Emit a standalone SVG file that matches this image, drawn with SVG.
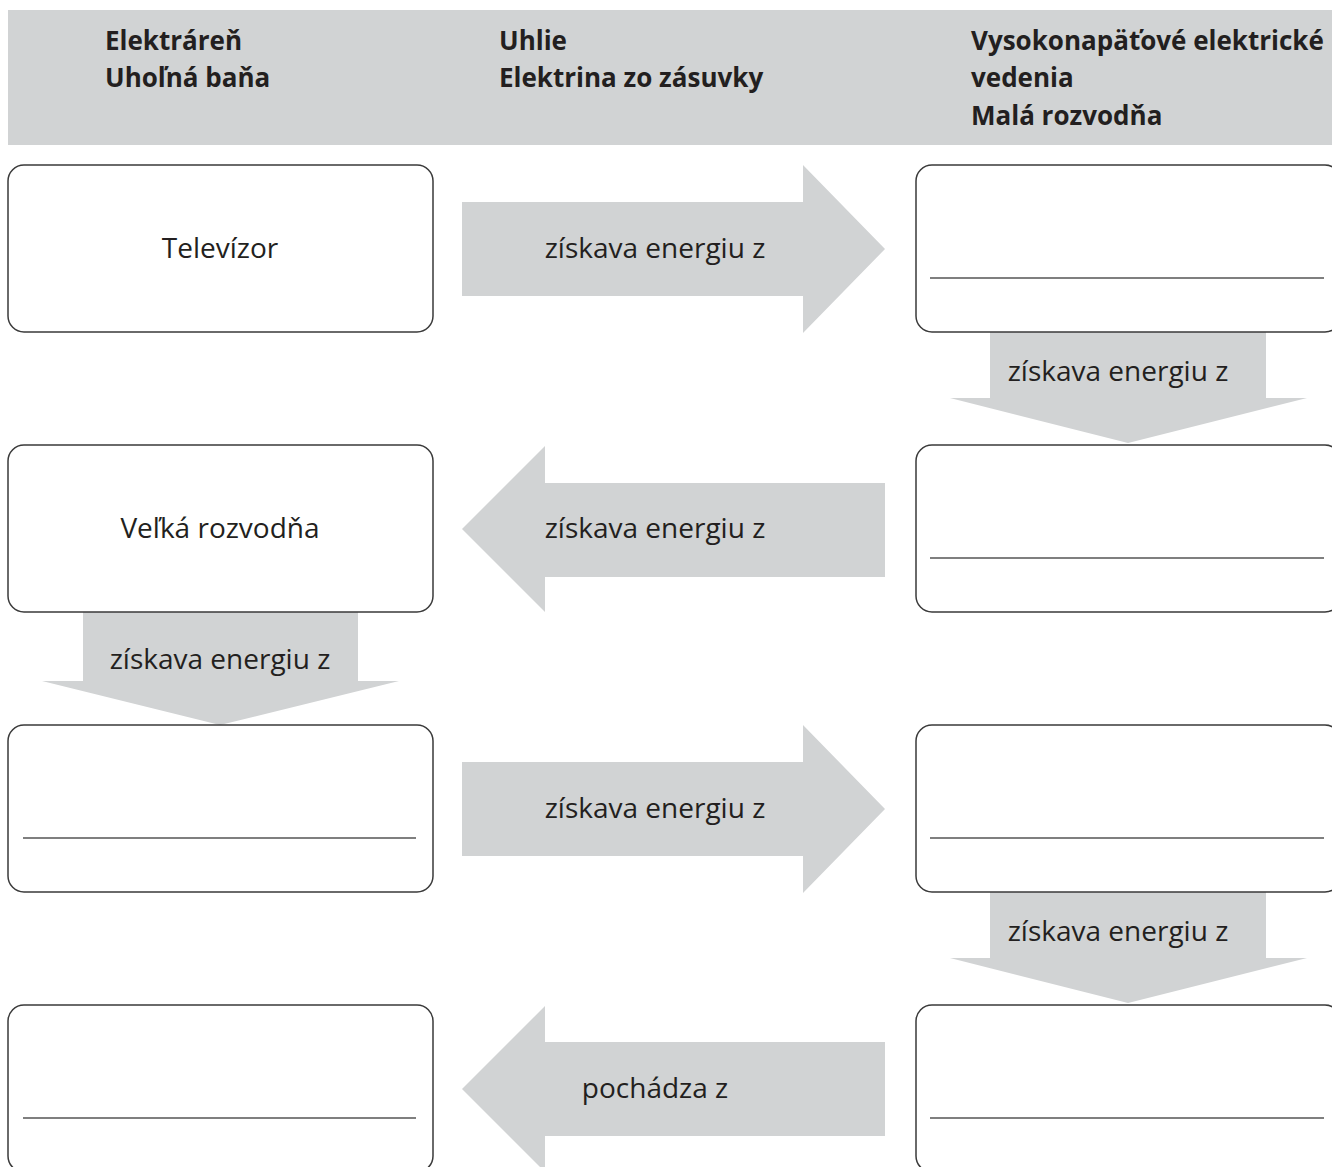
<svg xmlns="http://www.w3.org/2000/svg" width="1332" height="1167" viewBox="0 0 1332 1167">
<style>
.hdr{fill:#d1d3d4}
.box{fill:#fff;stroke:#3a3a3a;stroke-width:1.5}
.ln{stroke:#555;stroke-width:1.3}
.arr{fill:#d1d3d4}
text{font-family:"Open Sans","Noto Sans","Liberation Sans",sans-serif;fill:#231f20}
.h{font-size:26px;font-weight:bold}
.t{font-size:28px}
</style>
<rect width="1332" height="1167" fill="#fff"/>
<g id="header">
<rect class="hdr" x="8" y="10" width="1324" height="135"/>
<text class="h" x="105" y="50">Elektráreň</text>
<text class="h" x="105" y="87">Uhoľná baňa</text>
<text class="h" x="499" y="50">Uhlie</text>
<text class="h" x="499" y="87">Elektrina zo zásuvky</text>
<text class="h" x="971" y="50">Vysokonapäťové elektrické</text>
<text class="h" x="971" y="87">vedenia</text>
<text class="h" x="971" y="125">Malá rozvodňa</text>
</g>
<g id="connectors">
<g id="a1"><polygon class="arr" points="462,202 803,202 803,165 885,249 803,333 803,296 462,296"/><text class="t" x="655" y="258" text-anchor="middle">získava energiu z</text></g>
<g id="a2"><polygon class="arr" points="990,332 1266,332 1266,398 1307,398 1128,443 950,398 990,398"/><text class="t" x="1118" y="381" text-anchor="middle">získava energiu z</text></g>
<g id="a3"><polygon class="arr" points="885,483 545,483 545,446 462,529 545,612 545,577 885,577"/><text class="t" x="655" y="538" text-anchor="middle">získava energiu z</text></g>
<g id="a4"><polygon class="arr" points="83,612 358,612 358,681 399,681 220,725 42,681 83,681"/><text class="t" x="220" y="669" text-anchor="middle">získava energiu z</text></g>
<g id="a5"><polygon class="arr" points="462,762 803,762 803,725 885,809 803,893 803,856 462,856"/><text class="t" x="655" y="818" text-anchor="middle">získava energiu z</text></g>
<g id="a6"><polygon class="arr" points="990,892 1266,892 1266,958 1307,958 1128,1003 950,958 990,958"/><text class="t" x="1118" y="941" text-anchor="middle">získava energiu z</text></g>
<g id="a7"><polygon class="arr" points="885,1042 545,1042 545,1006 462,1089 545,1172 545,1136 885,1136"/><text class="t" x="655" y="1098" text-anchor="middle">pochádza z</text></g>
</g>
<g id="n1"><rect class="box" x="8" y="165" width="425" height="167" rx="16"/><text class="t" x="220" y="258" text-anchor="middle">Televízor</text></g>
<g id="n2"><rect class="box" x="916" y="165" width="425" height="167" rx="16"/><line class="ln" x1="930" y1="278" x2="1324" y2="278"/></g>
<g id="n3"><rect class="box" x="8" y="445" width="425" height="167" rx="16"/><text class="t" x="220" y="538" text-anchor="middle">Veľká rozvodňa</text></g>
<g id="n4"><rect class="box" x="916" y="445" width="425" height="167" rx="16"/><line class="ln" x1="930" y1="558" x2="1324" y2="558"/></g>
<g id="n5"><rect class="box" x="8" y="725" width="425" height="167" rx="16"/><line class="ln" x1="23" y1="838" x2="416" y2="838"/></g>
<g id="n6"><rect class="box" x="916" y="725" width="425" height="167" rx="16"/><line class="ln" x1="930" y1="838" x2="1324" y2="838"/></g>
<g id="n7"><rect class="box" x="8" y="1005" width="425" height="167" rx="16"/><line class="ln" x1="23" y1="1118" x2="416" y2="1118"/></g>
<g id="n8"><rect class="box" x="916" y="1005" width="425" height="167" rx="16"/><line class="ln" x1="930" y1="1118" x2="1324" y2="1118"/></g>
</svg>
